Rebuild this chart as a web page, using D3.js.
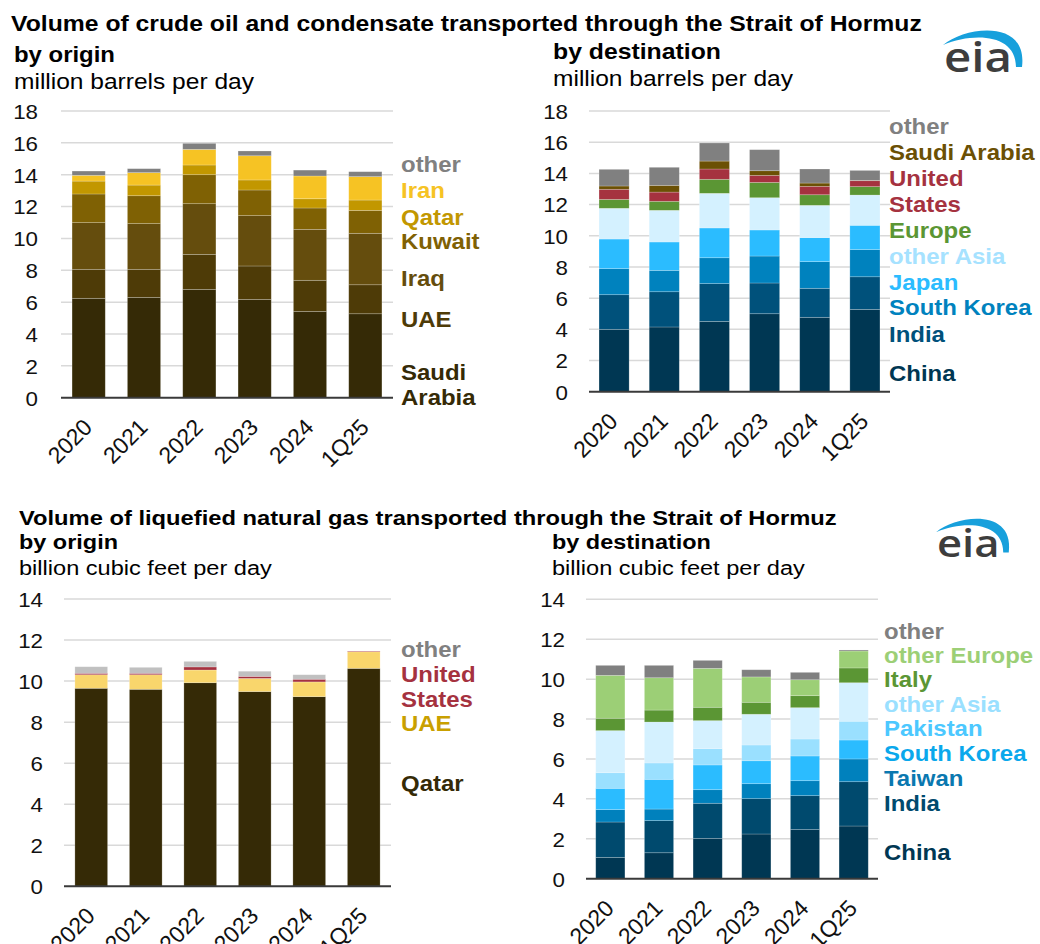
<!DOCTYPE html>
<html><head><meta charset="utf-8">
<script src="https://cdn.jsdelivr.net/npm/d3@7"></script>
<style>
body{margin:0;background:#fff;}
svg{display:block;font-family:"Liberation Sans",Arial,Helvetica,sans-serif;}
</style></head><body>
<svg id="c" width="1040" height="944"></svg>
<script>
// ---------------- DATA ----------------
const periods = ["2020","2021","2022","2023","2024","1Q25"];

// Crude oil & condensate by origin (million b/d)
const crudeOriginKeys = ["Saudi Arabia","UAE","Iraq","Kuwait","Qatar","Iran","other"];
const crudeSaudi   = [6.24,6.30,6.80,6.17,5.42,5.27];
const crudeUAE     = [1.82,1.76,2.20,2.10,1.95,1.82];
const crudeIraq    = [2.93,2.87,3.18,3.16,3.20,3.23];
const crudeKuwait  = [1.80,1.75,1.82,1.61,1.34,1.44];
const crudeQatar   = [0.81,0.67,0.61,0.63,0.58,0.65];
const crudeIran    = [0.36,0.78,0.98,1.52,1.43,1.47];
const crudeOrigOther = [0.27,0.25,0.38,0.30,0.37,0.31];

// Crude oil & condensate by destination (million b/d)
const crudeDestKeys = ["China","India","South Korea","Japan","other Asia","Europe","United States","Saudi Arabia","other"];
const cdChina  = [4.00,4.15,4.51,5.00,4.77,5.28];
const cdIndia  = [2.22,2.26,2.42,1.97,1.86,2.09];
const cdKorea  = [1.67,1.37,1.66,1.73,1.71,1.74];
const cdJapan  = [1.90,1.82,1.91,1.67,1.54,1.56];
const cdOAsia  = [1.97,2.03,2.22,2.07,2.07,1.94];
const cdEurope = [0.57,0.58,0.90,0.98,0.68,0.54];
const cdUS     = [0.65,0.59,0.66,0.45,0.54,0.38];
const cdSaudi  = [0.21,0.43,0.51,0.30,0.21,0.02];
const cdOther  = [1.07,1.16,1.16,1.35,0.90,0.64];

// LNG by origin (Bcf/d)
const lngOriginKeys = ["Qatar","UAE","United States","other"];
const loQatar = [9.65,9.60,9.92,9.49,9.24,10.62];
const loUAE   = [0.66,0.71,0.62,0.64,0.72,0.81];
const loUS    = [0.07,0.07,0.15,0.10,0.13,0.03];
const loOther = [0.32,0.29,0.27,0.25,0.22,0.00];

// LNG by destination (Bcf/d)
const lngDestKeys = ["China","India","Taiwan","South Korea","Pakistan","other Asia","Italy","other Europe","other"];
const ldChina  = [1.07,1.30,2.02,2.24,2.46,2.64];
const ldIndia  = [1.77,1.61,1.76,1.77,1.70,2.22];
const ldTaiwan = [0.62,0.58,0.68,0.75,0.75,1.14];
const ldKorea  = [1.07,1.49,1.24,1.15,1.24,0.95];
const ldPak    = [0.78,0.82,0.82,0.79,0.85,0.94];
const ldOAsia  = [2.11,2.05,1.40,1.54,1.57,1.93];
const ldItaly  = [0.62,0.60,0.67,0.60,0.60,0.74];
const ldOEur   = [2.15,1.62,1.95,1.27,0.80,0.85];
const ldOther  = [0.50,0.62,0.40,0.36,0.37,0.05];

const crudeTicks = [0,2,4,6,8,10,12,14,16,18];
const lngTicks = [0,2,4,6,8,10,12,14];

// legend label texts (shown at right of each panel)
const crudeOriginLabels = ["other","Iran","Qatar","Kuwait","Iraq","UAE","Saudi","Arabia"];
const crudeDestLabels = ["other","Saudi Arabia","United","States","Europe","other Asia","Japan","South Korea","India","China"];
const lngOriginLabels = ["other","United","States","UAE","Qatar"];
const lngDestLabels = ["other","other Europe","Italy","other Asia","Pakistan","South Korea","Taiwan","India","China"];

// ---------------- STYLE / LAYOUT ----------------
const SX = 1.09;
const panels = [
  { keys: crudeOriginKeys,
    series: [crudeSaudi,crudeUAE,crudeIraq,crudeKuwait,crudeQatar,crudeIran,crudeOrigOther],
    colors: ["#352a06","#4e3b07","#654d0d","#7f6104","#c29700","#f6c324","#808080"],
    ticks: crudeTicks, xl:61, xr:393, yb:397.7, yt:111, tickEnd:38,
    legendX:401, labels: crudeOriginLabels,
    labelPos:[14.67,13.06,11.34,9.82,7.51,4.94,1.63,0.06],
    labelColors:["#808080","#f6c324","#c29700","#7f6104","#654d0d","#4e3b07","#352a06","#352a06"] },
  { keys: crudeDestKeys,
    series: [cdChina,cdIndia,cdKorea,cdJapan,cdOAsia,cdEurope,cdUS,cdSaudi,cdOther],
    colors: ["#003753","#00517b","#0082be","#2bbcff","#d4f1ff","#5b9634","#a5323f","#6b5004","#808080"],
    ticks: crudeTicks, xl:589, xr:890, yb:391.7, yt:111, tickEnd:568,
    legendX:889, labels: crudeDestLabels,
    labelPos:[17.04,15.39,13.73,12.05,10.37,8.70,7.03,5.40,3.70,1.22],
    labelColors:["#808080","#6b5004","#a5323f","#a5323f","#5b9634","#a6e2ff","#2bbcff","#0082be","#00517b","#003753"] },
  { keys: lngOriginKeys,
    series: [loQatar,loUAE,loUS,loOther],
    colors: ["#352a06","#f9d66c","#a5323f","#c0c0c0"],
    ticks: lngTicks, xl:64, xr:391, yb:886.3, yt:599, tickEnd:43,
    legendX:401, labels: lngOriginLabels,
    labelPos:[11.55,10.35,9.14,7.97,5.05],
    labelColors:["#808080","#a5323f","#a5323f","#c9a000","#352a06"] },
  { keys: lngDestKeys,
    series: [ldChina,ldIndia,ldTaiwan,ldKorea,ldPak,ldOAsia,ldItaly,ldOEur,ldOther],
    colors: ["#003753","#004a6e","#0081bd","#2bbcff","#9ae0ff","#d4f1ff","#5b9634","#9ccf76","#808080"],
    ticks: lngTicks, xl:586, xr:878, yb:878.7, yt:599.3, tickEnd:565,
    legendX:884, labels: lngDestLabels,
    labelPos:[12.41,11.21,9.99,8.75,7.54,6.28,5.06,3.81,1.35],
    labelColors:["#808080","#9ccf76","#5b9634","#9ae0ff","#4cc8ff","#0aa8ec","#0a78b0","#004a6e","#003753"] }
];

const svg = d3.select("#c");

function fitText(x, y, str, size, weight, target) {
  const t = svg.append("text").attr("font-size", size).attr("font-weight", weight)
    .attr("fill", "#000").text(str);
  const len = t.node().getComputedTextLength();
  t.attr("transform", `translate(${x},${y}) scale(${target/len},1)`);
  return t;
}

// titles & subtitles
fitText(11, 31, "Volume of crude oil and condensate transported through the Strait of Hormuz", 22, "bold", 911);
fitText(14, 62, "by origin", 22, "bold", 101);
fitText(14, 89, "million barrels per day", 22, "normal", 240);
fitText(553, 59, "by destination", 22, "bold", 168);
fitText(553, 86, "million barrels per day", 22, "normal", 240);

fitText(19, 525, "Volume of liquefied natural gas transported through the Strait of Hormuz", 21, "bold", 818);
fitText(19, 549, "by origin", 21, "bold", 99);
fitText(19, 575, "billion cubic feet per day", 21, "normal", 253);
fitText(552, 549, "by destination", 21, "bold", 159);
fitText(552, 575, "billion cubic feet per day", 21, "normal", 253);

// eia logos
function logo(x, y, s) {
  const g = svg.append("g").attr("transform", `translate(${x},${y}) scale(${s})`);
  g.append("path")
    .attr("d", "M -1,-27 C 22,-46 84,-53 78,-5 L 72,-5 C 72,-38 30,-40 -1,-27 Z")
    .attr("fill", "#17a0dc");
  g.append("text").attr("x", 0).attr("y", 0)
    .attr("font-family", "'Open Sans', 'DejaVu Sans', sans-serif")
    .attr("font-weight", 600).attr("font-size", 42).attr("fill", "#3d3d3d")
    .attr("textLength", 68).attr("lengthAdjust", "spacingAndGlyphs")
    .text("eia");
}
logo(944, 72, 1);
logo(937, 557, 0.92);

// panels
panels.forEach(p => {
  const g = svg.append("g");
  const max = p.ticks[p.ticks.length - 1];
  const y = d3.scaleLinear().domain([0, max]).range([p.yb, p.yt]);
  const x = d3.scaleBand().domain(periods).range([p.xl, p.xr])
    .paddingInner(0.4).paddingOuter(0.2);

  // gridlines
  g.append("g").selectAll("line").data(p.ticks.filter(t => t > 0)).join("line")
    .attr("x1", p.xl).attr("x2", p.xr)
    .attr("y1", d => y(d)).attr("y2", d => y(d))
    .attr("stroke", "#d9d9d9").attr("stroke-width", 1.5);

  // y axis labels
  const pad = p.xl - p.tickEnd;
  const ax = g.append("g").attr("transform", `translate(${p.xl},0)`)
    .call(d3.axisLeft(y).tickValues(p.ticks).tickSize(0).tickPadding(pad));
  ax.select(".domain").remove();
  ax.selectAll("text")
    .attr("font-size", 20.5).attr("font-family", "'Liberation Sans',Arial,sans-serif")
    .attr("fill", "#111")
    .attr("x", -pad / SX).attr("dy", "0.36em")
    .attr("transform", `scale(${SX},1)`);

  // stacked bars
  const rows = periods.map((per, i) => {
    const o = { period: per };
    p.keys.forEach((k, j) => o[k] = p.series[j][i]);
    return o;
  });
  const stacked = d3.stack().keys(p.keys)(rows);
  g.append("g").selectAll("g").data(stacked).join("g")
    .attr("fill", (d, i) => p.colors[i])
    .selectAll("rect").data(d => d).join("rect")
    .attr("x", d => x(d.data.period))
    .attr("width", x.bandwidth())
    .attr("y", d => y(d[1]))
    .attr("height", d => Math.max(0, y(d[0]) - y(d[1])))
    .attr("stroke", "rgba(255,255,255,0.3)").attr("stroke-width", 0.7);

  // baseline
  g.append("line").attr("x1", p.xl).attr("x2", p.xr)
    .attr("y1", y(0)).attr("y2", y(0))
    .attr("stroke", "#3a3a3a").attr("stroke-width", 2);

  // x labels
  g.append("g").selectAll("text").data(periods).join("text")
    .attr("transform", d => `translate(${x(d) + x.bandwidth() / 2 + 5},${y(0) + 31}) rotate(-45)`)
    .attr("text-anchor", "end").attr("font-size", 23).attr("fill", "#111")
    .text(d => d);

  // legend labels
  g.append("g").selectAll("text").data(p.labels).join("text")
    .attr("transform", (d, i) => `translate(${p.legendX},${y(p.labelPos[i])}) scale(${SX},1)`)
    .attr("dy", "0.36em")
    .attr("font-size", 22).attr("font-weight", "bold")
    .attr("fill", (d, i) => p.labelColors[i])
    .text(d => d);
});
</script>
</body></html>
